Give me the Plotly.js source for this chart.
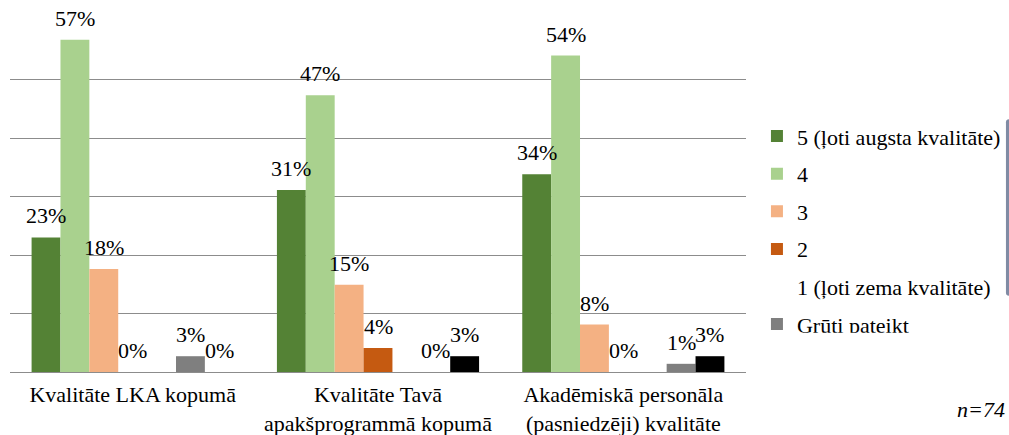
<!DOCTYPE html>
<html><head><meta charset="utf-8"><script src="https://cdn.plot.ly/plotly-3.0.1.min.js"></script>
<style>
html,body{margin:0;padding:0;background:#fff;}
.p{width:1009px;height:435px;display:inline-block;}
.main-svg text, .main-svg tspan{font-family:'Liberation Serif','Times New Roman',serif !important;}
</style></head>
<body>
<div id="p1" class="p"></div>
<script>
const categories = ["Kvalitāte LKA kopumā", "Kvalitāte Tavā<br>apakšprogrammā kopumā", "Akadēmiskā personāla<br>(pasniedzēji) kvalitāte"];
const seriesNames = ["5 (ļoti augsta kvalitāte)", "4", "3", "2", "1 (ļoti zema kvalitāte)", "Grūti pateikt", "NA"];
const s5 = [23.0, 31.1, 33.8];
const s4 = [56.8, 47.3, 54.1];
const s3 = [17.6, 14.9, 8.1];
const s2 = [0, 4.1, 0];
const s1 = [null, null, null];
const sGruti = [2.7, 0, 1.4];
const sNA = [0, 2.7, 2.7];
const seriesValues = [s5, s4, s3, s2, s1, sGruti, sNA];
const seriesColors = ["#548235", "#A9D18E", "#F4B183", "#C55A11", "rgba(0,0,0,0)", "#7F7F7F", "#000000"];
const noteText = "n=74";
const FONT = "Liberation Serif";
const BARGAP = 0.176;
function build(id) {
  const traces = seriesValues.map((v, i) => ({
    type: "bar", name: seriesNames[i], x: categories, y: v,
    marker: {color: seriesColors[i]}, legendgroup: "g" + i, hoverinfo: "skip"
  }));
  const nS = seriesValues.length, slot = (1 - BARGAP) / nS, ann = [];
  seriesValues.forEach((v, i) => v.forEach((y, c) => {
    if (y === null) return;
    ann.push({xref: "x", yref: "y", x: c + (i - (nS - 1) / 2) * slot, y: y,
      text: Math.round(y) + "%", showarrow: false, yanchor: "bottom", yshift: 7,
      font: {family: FONT, size: 22}});
  }));
  const layout = {
    width: 1009, height: 435,
    margin: {l: 10, r: 263, t: 21, b: 63, pad: 0},
    paper_bgcolor: "#fff", plot_bgcolor: "#fff",
    font: {family: FONT, size: 22, color: "#000000"},
    barmode: "group", bargap: BARGAP, bargroupgap: 0,
    title: {text: "<i>" + noteText + "</i>", x: 0.996, xref: "container", xanchor: "right",
      y: 0.06, yref: "container", yanchor: "middle", font: {family: FONT, size: 22}},
    showlegend: true,
    legend: {xref: "container", yref: "container", x: 0.7502, y: 0.485, xanchor: "left", yanchor: "middle",
      font: {family: FONT, size: 22}, tracegroupgap: 6, bgcolor: "rgba(0,0,0,0)"},
    xaxis: {type: "category", showgrid: false, showline: false, zeroline: false, ticks: "",
      tickfont: {family: FONT, size: 22}, ticklabelstandoff: 7, fixedrange: true, automargin: false},
    yaxis: {range: [0, 60], dtick: 10, tick0: 0, showticklabels: false, ticks: "",
      showgrid: true, gridcolor: "#8c8c8c", gridwidth: 1,
      zeroline: true, zerolinecolor: "#8c8c8c", zerolinewidth: 1, showline: false, fixedrange: true, automargin: false},
    annotations: ann
  };
  Plotly.newPlot(id, traces, layout, {displayModeBar: false});
}
build("p1");
</script></body></html>
